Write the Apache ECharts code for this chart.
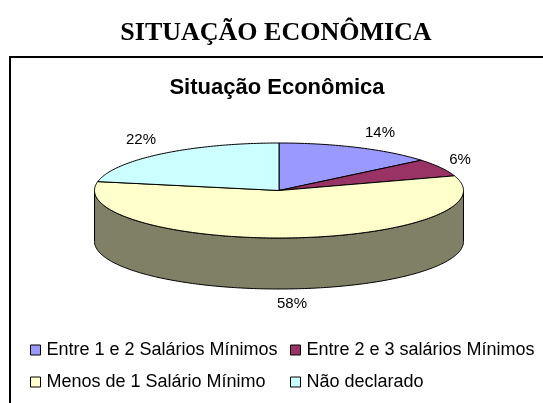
<!DOCTYPE html>
<html>
<head>
<meta charset="utf-8">
<style>
  html, body { margin: 0; padding: 0; background: #fff; }
  #chart { width: 543px; height: 403px; }
</style>
<script src="https://cdn.jsdelivr.net/npm/echarts@6/dist/echarts.min.js"></script>
</head>
<body>
<div id="chart"></div>
<script>
const categories = ['Entre 1 e 2 Salários Mínimos', 'Entre 2 e 3 salários Mínimos', 'Menos de 1 Salário Mínimo', 'Não declarado']
const values = [14, 6, 58, 22]
const topColors = ['#9999ff', '#993366', '#ffffcc', '#ccffff']
const sideColors = ['#4d4d80', '#4d1a33', '#808066', '#668080']

// the tilted pie
const cx = 279, cy = 190.5, rx = 184.5, ry = 47.5, depth = 51
const total = values.reduce((a, b) => a + b, 0)

function pt (deg, dy) {
  const t = deg * Math.PI / 180
  return [cx + rx * Math.sin(t), cy - ry * Math.cos(t) + (dy || 0)]
}

function arc (from, to, dy) {
  const pts = []
  const n = Math.max(2, Math.ceil(Math.abs(to - from)))
  for (let i = 0; i <= n; i++) pts.push(pt(from + (to - from) * i / n, dy))
  return pts
}

function sliceItem (idx) {
  const before = values.slice(0, idx).reduce((a, b) => a + b, 0)
  const from = before / total * 360
  const to = (before + values[idx]) / total * 360
  const line = { stroke: '#000', lineWidth: 1 }
  const children = []
  // front wall only shows between 90 and 270 degrees
  const a = Math.max(from, 90), b = Math.min(to, 270)
  if (b > a) {
    children.push({
      type: 'polygon',
      shape: { points: arc(a, b, 0).concat(arc(b, a, depth)) },
      style: { fill: sideColors[idx], ...line }
    })
  }
  children.push({
    type: 'polygon',
    shape: { points: [[cx, cy]].concat(arc(from, to, 0)) },
    style: { fill: topColors[idx], ...line }
  })
  return { type: 'group', children }
}

const labelPos = [[380, 133], [460, 160], [292, 304], [141, 140]]

const series = categories.map((name, i) => ({
  name,
  type: 'custom',
  coordinateSystem: 'none',
  silent: true,
  animation: false,
  itemStyle: { color: topColors[i] },
  data: [values[i]],
  renderItem: () => sliceItem(i)
}))

const myChart = echarts.init(document.getElementById('chart'), null, { renderer: 'canvas' })
const legendBase = {
  orient: 'vertical',
  icon: 'rect',
  itemWidth: 10,
  itemHeight: 10,
  itemGap: 14,
  top: 341,
  padding: 0,
  selectedMode: false,
  itemStyle: { borderColor: '#000', borderWidth: 1 },
  textStyle: { fontFamily: 'Liberation Sans', fontSize: 18, color: '#000', padding: [0, 0, 0, 1] }
}
myChart.setOption({
  animation: false,
  backgroundColor: '#fff',
  title: [
    {
      text: 'SITUAÇÃO ECONÔMICA',
      left: 271, top: 15, textAlign: 'center',
      textStyle: { fontFamily: 'Liberation Serif', fontWeight: 'bold', fontSize: 26, color: '#000' }
    },
    {
      text: 'Situação Econômica',
      left: 272, top: 72, textAlign: 'center',
      textStyle: { fontFamily: 'Liberation Sans', fontWeight: 'bold', fontSize: 22, color: '#000' }
    }
  ],
  legend: [
    { ...legendBase, left: 30, data: [categories[0], categories[2]] },
    { ...legendBase, left: 290, data: [categories[1], categories[3]] }
  ],
  graphic: [
    // frame: only the top and left edges are in the picture
    {
      type: 'polyline',
      z: -1,
      shape: { points: [[10, 403], [10, 57], [543, 57]] },
      style: { fill: 'none', stroke: '#000', lineWidth: 2 }
    }
  ].concat(values.map((v, i) => ({
    type: 'text',
    x: labelPos[i][0],
    y: labelPos[i][1],
    style: {
      text: v + '%',
      fontFamily: 'Liberation Sans',
      fontSize: 15,
      fill: '#000',
      align: 'center',
      verticalAlign: 'middle'
    }
  }))),
  series
})
</script>
</body>
</html>
